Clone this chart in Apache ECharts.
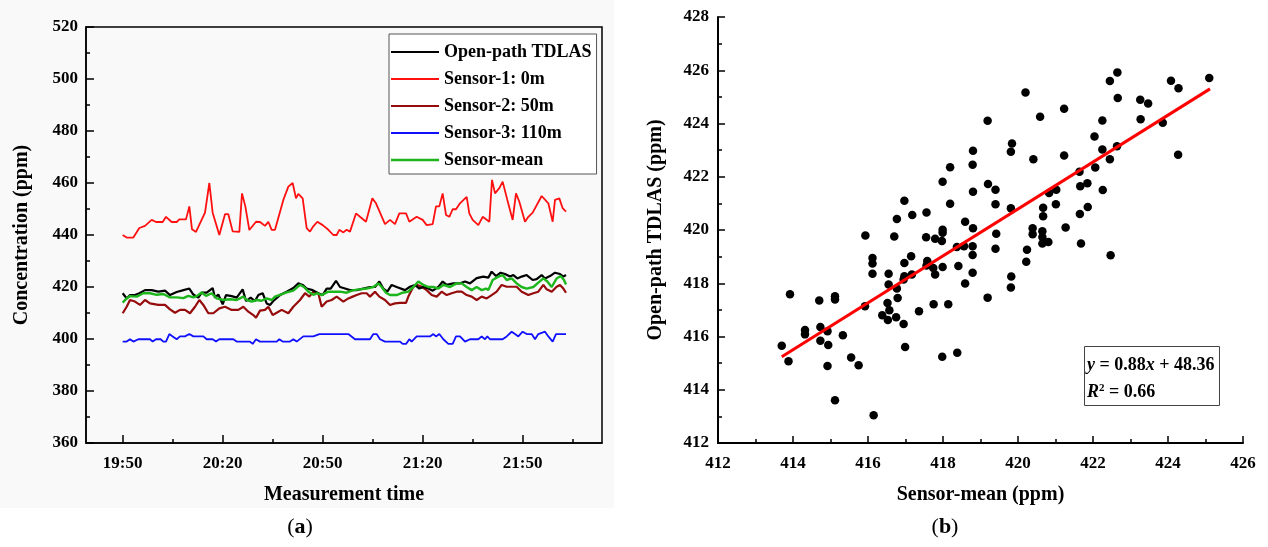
<!DOCTYPE html>
<html>
<head>
<meta charset="utf-8">
<script src="https://cdn.jsdelivr.net/npm/echarts@6/dist/echarts.min.js"></script>
<style>
html,body{margin:0;padding:0;background:#fff;}
#chart{width:1268px;height:547px;}
</style>
</head>
<body>
<div id="chart"></div>
<script>
// ---------- Panel (a): time series (minutes after 19:50, ppm) ----------
const startClock = 19 * 60 + 50;
const timeTickLabels = [0, 30, 60, 90, 120];
const timeMinorTicks = [15, 45, 75, 105, 135];
const seriesNames = ['Open-path TDLAS', 'Sensor-1: 0m', 'Sensor-2: 50m', 'Sensor-3: 110m', 'Sensor-mean'];

const tdlasLine = [[0,417.6],[1.2,415.6],[2.2,416.9],[3.7,416.9],[5,417.6],[6.7,418.8],[8.7,418.8],[10.7,418.2],[12.7,418.6],[14.2,416.9],[16.2,418.1],[17.7,418.6],[20,419.4],[21.2,417.1],[22.7,415.9],[23.7,417.8],[25.2,417.8],[27,419.6],[27.7,415.9],[28.7,417.1],[30,413.3],[31,416.9],[32.7,416.5],[34.2,415.9],[36,419.1],[37,414.6],[38.4,415.9],[39.7,414.6],[40.7,416.9],[42,417.6],[43.2,413.7],[44.2,413.1],[45.2,414.6],[47.2,416.9],[49.2,418.2],[51.2,419.6],[52.7,421.4],[54,420.8],[55.2,419.4],[57,418.8],[58.7,417.6],[60,416.9],[61.2,419.4],[62.4,419.4],[64,422.4],[65.2,420],[66.7,419.4],[68.2,418.8],[70.2,418.8],[72.2,419.4],[74.2,420],[75.7,420],[77,422.1],[78.2,419.4],[79.4,418.2],[80.7,420.8],[82.2,420],[84.7,418.8],[86.2,420.1],[87.7,420.8],[89,419.4],[90.2,420],[91.7,419.4],[93,418.6],[94.7,420],[96,422.1],[97.2,420.8],[99.2,421.4],[101.2,421.4],[102.7,422.1],[104.2,421.4],[106.2,423.4],[108.2,424],[109.7,423.6],[110.7,425.9],[112,424.2],[113.4,425.5],[114.7,425],[116.2,424],[117.2,424.6],[118.4,423.3],[119.7,424],[121.2,424.6],[123,422.7],[124.2,423],[125.7,424.6],[126.7,423.3],[128.2,424.2],[129.7,425.5],[131.2,425],[132.2,424],[133,424.6]];

const sensor1Line = [[0,440],[1.2,439],[3.2,439],[5,442.7],[6.7,443.5],[8.7,445.8],[10,445],[12,445],[13,447],[14.7,445],[16.2,445],[17,446],[19,446],[20,451],[20.8,442.2],[22,441.2],[24.7,448.6],[26,460],[27,448.6],[29,440],[30.7,448],[31.7,448],[33,441.4],[35,441.2],[35.8,456],[36.8,451],[38,441.9],[40,445.1],[41.2,445],[42.7,443.5],[43.7,445.1],[44.7,442],[45.7,442],[48.2,453.5],[49.7,458.6],[51,460],[52,454.1],[52.7,455.8],[54,454.1],[55.2,442.6],[56.2,441.3],[57,443],[58.4,445.1],[60,443.8],[61.7,442],[63.2,440],[64.2,440],[65,442],[66.2,441],[67.2,442],[68.2,441.3],[70,448.3],[71.2,447],[73,445.1],[74.9,454.1],[76,452.2],[76.5,452.4],[78.7,444.2],[80.2,445.8],[81.7,444.2],[83,448.3],[85,448.3],[86,445.1],[88.2,447],[90,445.8],[91.2,443.8],[93,444.2],[94,451],[95,451],[96,456],[97,447.7],[98,447],[99,449.9],[100,449.9],[101.2,452.2],[103.2,454.7],[104,448.3],[105,445.8],[106.7,443.8],[108,447],[110,445.1],[110.8,461.2],[111.7,456],[113,458],[114,460.5],[115.4,453.5],[117,445.8],[118,456],[119,452.8],[120.7,445.1],[121.7,447],[123,448.6],[125.7,455],[127.7,452.2],[129,445.1],[129.7,453.5],[131,454.1],[132,450.3],[133,449]];

const sensor2Line = [[0,409.9],[1.2,412.4],[2.2,415],[3.7,414.4],[5.2,413.1],[6.7,415],[8.2,413.7],[10.7,413.1],[12.7,413.1],[14.2,411.4],[15.7,410.1],[17.2,411.2],[18.7,411.2],[20.2,409.9],[21.7,412.4],[23,415],[24.2,413.1],[25.7,409.9],[27.2,409.9],[29,411.8],[30.7,412.4],[32.7,411.2],[34.7,411.2],[36.2,412.4],[37.7,410.5],[39.2,409.2],[40,408.2],[41.2,410.9],[42.7,411.2],[43.7,412.4],[45,409.2],[46.2,410.1],[47.7,411.2],[49.7,409.9],[51.2,412.4],[53.2,415],[54.7,417.6],[56,416.3],[57.2,418.2],[58.7,417.6],[59.7,412.4],[61.2,414.4],[62.7,415],[64.2,416.3],[66.2,414.4],[67.7,415.6],[69,416.3],[70.2,416.9],[71.7,417.6],[73.2,417.6],[74.2,416.3],[75.7,418.2],[77,416.3],[78.7,415],[80.2,413.1],[81.7,413.7],[83.2,413.9],[85,413.9],[85.7,416.3],[87.2,420.1],[88.4,420.8],[89.7,420.1],[91.2,418.8],[92.7,416.9],[94.2,416.3],[95.7,418.2],[97.2,416.9],[98.7,417.6],[100.2,418.2],[101.7,418.2],[103.2,416.9],[104.7,416.3],[106.2,415],[107.7,416.3],[109.2,415.6],[110.7,416.9],[112.2,418.2],[113.7,420.8],[115.2,420.1],[116.7,420.1],[118.2,420.1],[119.7,418.2],[121.7,416.9],[123.2,417.6],[124.7,418.2],[126.2,420.8],[127.2,419.1],[128.7,418.2],[130.2,420.1],[131.2,420.8],[132.2,419.4],[133,417.8]];

const sensor3Line = [[0,399],[1.2,399],[2.2,399.9],[3.2,399],[4.7,399.9],[8.2,399.9],[9,399],[10,399.9],[11.4,399.9],[12.2,399],[13,399],[14,401.9],[15,401],[16.2,399.9],[17.2,401],[18.7,401],[20,401.9],[21.2,401],[24.2,401],[25.2,399.9],[27,399.9],[28,399],[29,399.9],[33.2,399.9],[34.2,399],[38.2,399],[39,398.1],[40,399.9],[41.2,399],[46.2,399],[47,399.9],[48,399],[50.2,399],[51.2,399.9],[52.2,399],[54.2,401],[57.2,401],[59,401.9],[67.7,401.9],[69.7,399.9],[74.2,399.9],[75.2,401.9],[76.2,401.9],[77.2,399.9],[78.7,399],[83.2,399],[84,398.1],[85,398.1],[86,399.9],[86.7,399],[88.2,401],[92.2,401],[93.2,401.9],[94,401],[95,401.9],[96.2,399.9],[97.7,398.1],[99,398.1],[100,401],[101.2,401],[102.7,399],[104.2,399.9],[106.7,399.9],[107.7,401],[108.7,399.9],[109.4,401],[110.2,399.9],[114,399.9],[115.2,401],[116.7,402.8],[117.7,401.9],[118.7,401],[120,402.8],[121.2,401.9],[122.7,401.9],[123.7,399.9],[124.7,401.9],[126.7,402.8],[127.7,401],[129,399],[130,401.9],[133,401.9]];

const meanLine = [[0,414],[1.2,415.6],[2.2,416.5],[4.2,416.3],[6.2,417.6],[8.2,417.6],[10.2,417],[12.2,417.3],[14.2,416],[16.2,416],[18.2,415.7],[19.7,416.6],[21.2,416],[22.2,416.5],[23.7,417.9],[25,416.6],[26.7,417.6],[28.2,415.6],[30.2,415],[32.2,415.3],[34.2,415],[36.2,416.3],[37.2,415],[38.7,414.4],[40.2,415],[41.7,414.7],[43.2,415.6],[44.7,415],[45.7,416.3],[47.2,417],[49.2,417.9],[51.2,418.6],[53.2,420.8],[54.4,420],[55.7,418.2],[57.2,417],[58.4,417.6],[59.7,416.9],[61.7,418.2],[63.2,418.2],[65.2,418.2],[67.2,417.8],[69.2,418.8],[71.2,419.1],[73.2,419.4],[75.2,420],[76.7,421.4],[77.7,420],[79,417.8],[80.2,416.9],[82.2,416.9],[84,417.8],[85.7,418.2],[87.2,420],[88.7,422.1],[90.2,420.8],[91.7,420],[93.2,420],[94.7,419.4],[96.2,420.8],[98.2,420],[100.2,421.4],[101.7,421.4],[103.2,420],[104.7,418.8],[106.2,420],[107.7,418.8],[109,419.4],[109.7,418.8],[111,422.7],[112.7,424],[114,424.6],[115.2,422.7],[116.7,423.3],[118.2,421.4],[119.7,420],[121.2,419.4],[123.2,420],[124.7,421.7],[126.2,423.3],[127.4,422.1],[128.7,420],[130.2,423.3],[131.4,424.2],[132.4,422.7],[133,421]];

// ---------- Panel (b): scatter (x = sensor mean, y = TDLAS) ----------
const scatterSensorMean = [418.19,417.99,416.97,418.19,416.77,417.18,417.56,417.99,415.93,416.70,417.55,417.79,417.97,418.37,416.12,416.12,416.12,416.55,417.15,416.97,417.58,417.56,417.74,417.99,417.79,417.17,416.97,416.95,418.41,416.55,416.77,416.79,416.52,415.92,416.57,417.36,417.75,418.14,416.38,416.75,416.53,416.95,416.99,417.98,418.38,416.15,413.92,413.70,413.88,414.32,414.32,414.70,414.73,414.92,414.73,414.94,414.92,415.12,415.12,415.33,415.55,415.75,415.12,422.65,422.45,422.66,424.08,424.28,425.10,423.26,423.47,423.27,423.86,424.27,420.20,421.23,422.25,419.19,420.59,422.04,422.64,422.25,422.45,422.06,421.23,420.41,419.84,419.81,418.80,418.79,419.20,419.40,418.80,419.40,419.81,418.59,418.80,419.42,420.39,420.39,420.65,420.65,420.67,420.67,421.01,421.27,420.83,421.02,421.65,421.86,421.66,421.85,422.26,421.64,420.65,420.81,421.68,422.47,420.24,420.22,419.40,418.56,418.79,418.79,418.79,418.59,419.82,419.81,419.19,417.99];
const scatterTdlas = [422.36,421.81,421.10,420.99,420.41,420.56,420.66,420.01,419.79,419.76,419.73,419.67,419.59,419.36,418.95,418.74,418.36,418.36,419.01,418.76,418.84,418.67,418.57,418.61,418.33,418.33,418.26,418.14,418.65,417.95,417.80,417.45,417.26,417.14,416.99,416.95,417.21,417.21,416.80,416.72,416.62,416.47,415.61,415.24,415.39,413.04,417.59,415.65,415.07,416.24,416.08,417.35,416.36,416.20,415.84,415.68,414.89,417.51,417.39,416.05,415.21,414.92,413.61,425.92,425.60,424.96,425.61,425.32,425.71,424.89,424.75,424.16,424.03,422.83,425.16,424.55,424.11,424.10,424.25,423.51,423.15,423.02,422.66,422.35,422.80,422.66,423.25,422.94,422.98,422.45,421.73,421.51,421.44,420.97,420.82,420.31,420.07,419.86,420.07,419.84,419.95,419.74,420.84,420.52,420.97,420.09,421.39,421.51,420.60,420.86,421.64,421.76,421.50,422.19,419.49,419.55,419.49,419.05,419.26,418.81,419.30,419.39,419.39,419.06,418.39,417.99,418.25,417.84,417.46,419.90];
const fitLineX = [413.70, 425.12];
const fitLineY = [415.24, 425.30];
const equationLine1 = ['y', ' = 0.88', 'x', ' + 48.36'];
const equationLine2 = ['R', '2', ' = 0.66'];

// ---------- build ----------
const FONT = "'Liberation Serif', 'Times New Roman', serif";
const txt = (size, weight) => ({ fontFamily: FONT, fontSize: size, fontWeight: weight || 'bold', color: '#000' });
const fmtTime = v => { const m = startClock + Math.round(v); return Math.floor(m / 60) + ':' + String(m % 60).padStart(2, '0'); };

const colors = ['#000000', '#ff1010', '#960c0c', '#1010ff', '#1cb51c'];
const widths = [2.2, 1.8, 2.2, 1.8, 2.4];
const lineData = [tdlasLine, sensor1Line, sensor2Line, sensor3Line, meanLine];
const drawOrder = [1, 3, 2, 0, 4];

const scatterPts = scatterSensorMean.map((x, i) => [x, scatterTdlas[i]]);
const fitPts = fitLineX.map((x, i) => [x, fitLineY[i]]);

const chart = echarts.init(document.getElementById('chart'), null, { renderer: 'canvas' });

const option = {
  animation: false,
  backgroundColor: '#ffffff',
  grid: [
    { left: 86, top: 27, width: 516, height: 416, show: true, borderColor: '#000', borderWidth: 1.5, backgroundColor: 'transparent' },
    { left: 718, top: 17, width: 525, height: 426 }
  ],
  legend: {
    orient: 'vertical', left: 389, top: 34,
    backgroundColor: '#fff', borderColor: '#555', borderWidth: 1,
    padding: [9, 5, 5, 2],
    itemWidth: 48, itemHeight: 18, itemGap: 9,
    textStyle: txt(18)
  },
  xAxis: [
    {
      gridIndex: 0, type: 'value', min: -11, max: 143.8,
      name: 'Measurement time', nameLocation: 'middle', nameGap: 42, nameTextStyle: txt(20),
      axisLine: { onZero: false, lineStyle: { color: '#000', width: 1.5 } },
      axisTick: { inside: true, length: 8, lineStyle: { color: '#000', width: 1.5 }, customValues: timeTickLabels },
      axisLabel: { customValues: timeTickLabels, formatter: fmtTime, margin: 12, ...txt(17) },
      splitLine: { show: false }
    },
    {
      gridIndex: 0, type: 'value', min: -11, max: 143.8, position: 'bottom',
      axisLine: { show: false, onZero: false },
      axisTick: { inside: true, length: 4, lineStyle: { color: '#000', width: 1.5 }, customValues: timeMinorTicks },
      axisLabel: { show: false },
      splitLine: { show: false }
    },
    {
      gridIndex: 1, type: 'value', min: 412, max: 426, interval: 2,
      name: 'Sensor-mean (ppm)', nameLocation: 'middle', nameGap: 42, nameTextStyle: txt(20),
      axisLine: { onZero: false, lineStyle: { color: '#000', width: 2 } },
      axisTick: { inside: true, length: 7, lineStyle: { color: '#000', width: 1.5 } },
      minorTick: { show: true, splitNumber: 2, length: 4, lineStyle: { color: '#000', width: 1.5 } },
      axisLabel: { margin: 12, ...txt(17) },
      splitLine: { show: false }
    }
  ],
  yAxis: [
    {
      gridIndex: 0, type: 'value', min: 360, max: 520, interval: 20,
      name: 'Concentration (ppm)', nameLocation: 'middle', nameGap: 54, nameTextStyle: txt(20),
      axisLine: { onZero: false, lineStyle: { color: '#000', width: 1.5 } },
      axisTick: { inside: true, length: 8, lineStyle: { color: '#000', width: 1.5 } },
      minorTick: { show: true, splitNumber: 2, length: 4, lineStyle: { color: '#000', width: 1.5 } },
      axisLabel: { margin: 8, ...txt(17) },
      splitLine: { show: false }
    },
    {
      gridIndex: 1, type: 'value', min: 412, max: 428, interval: 2,
      name: 'Open-path TDLAS (ppm)', nameLocation: 'middle', nameGap: 52, nameTextStyle: txt(20),
      axisLine: { onZero: false, lineStyle: { color: '#000', width: 2 } },
      axisTick: { inside: true, length: 7, lineStyle: { color: '#000', width: 1.5 } },
      minorTick: { show: true, splitNumber: 2, length: 4, lineStyle: { color: '#000', width: 1.5 } },
      axisLabel: { margin: 9, ...txt(17) },
      splitLine: { show: false }
    }
  ],
  series: [
    ...drawOrder.map(i => ({
      name: seriesNames[i], type: 'line', xAxisIndex: 0, yAxisIndex: 0,
      data: lineData[i], symbol: 'none', smooth: false,
      lineStyle: { color: colors[i], width: widths[i] }, itemStyle: { color: colors[i] },
      z: 3 + drawOrder.indexOf(i)
    })),
    {
      type: 'scatter', xAxisIndex: 2, yAxisIndex: 1, data: scatterPts,
      symbol: 'circle', symbolSize: 8.5, itemStyle: { color: '#000', opacity: 1 }, z: 3
    },
    {
      type: 'line', xAxisIndex: 2, yAxisIndex: 1, data: fitPts, symbol: 'none',
      lineStyle: { color: '#ff0000', width: 3 }, z: 4
    }
  ],
  graphic: [
    { type: 'rect', z: -10, silent: true, shape: { x: 0, y: 0, width: 614, height: 508 }, style: { fill: '#f9f9f9' } },
    { type: 'rect', z: 10, shape: { x: 1084.5, y: 346.5, width: 135, height: 59 }, style: { fill: '#fff', stroke: '#444', lineWidth: 1 } },
    {
      type: 'text', z: 11, x: 1087, y: 365,
      style: {
        text: '{i|' + equationLine1[0] + '}{n|' + equationLine1[1] + '}{i|' + equationLine1[2] + '}{n|' + equationLine1[3] + '}',
        verticalAlign: 'middle', rich: { i: { ...txt(18), fontStyle: 'italic' }, n: txt(18) }
      }
    },
    {
      type: 'text', z: 11, x: 1087, y: 392,
      style: {
        text: '{i|' + equationLine2[0] + '}{s|' + equationLine2[1] + '}{n|' + equationLine2[2] + '}',
        verticalAlign: 'middle',
        rich: { i: { ...txt(18), fontStyle: 'italic' }, s: { ...txt(11), verticalAlign: 'top', padding: [0, 0, 8, 0] }, n: txt(18) }
      }
    },
    {
      type: 'text', x: 300, y: 527,
      style: { text: '({b|a})', align: 'center', verticalAlign: 'middle', fontFamily: FONT, fontSize: 22, fill: '#000', rich: { b: { fontFamily: FONT, fontSize: 22, fontWeight: 'bold' } } }
    },
    {
      type: 'text', x: 945, y: 527,
      style: { text: '({b|b})', align: 'center', verticalAlign: 'middle', fontFamily: FONT, fontSize: 22, fill: '#000', rich: { b: { fontFamily: FONT, fontSize: 22, fontWeight: 'bold' } } }
    }
  ]
};

// legend icons: plain bars with the series line thickness
option.legend.data = seriesNames.map((n, i) => ({
  name: n,
  icon: 'path://M0,0 L100,0 L100,' + (widths[i] * 100 / 48).toFixed(2) + ' L0,' + (widths[i] * 100 / 48).toFixed(2) + ' Z',
  itemStyle: { color: colors[i] }
}));

chart.setOption(option);
</script>
</body>
</html>
